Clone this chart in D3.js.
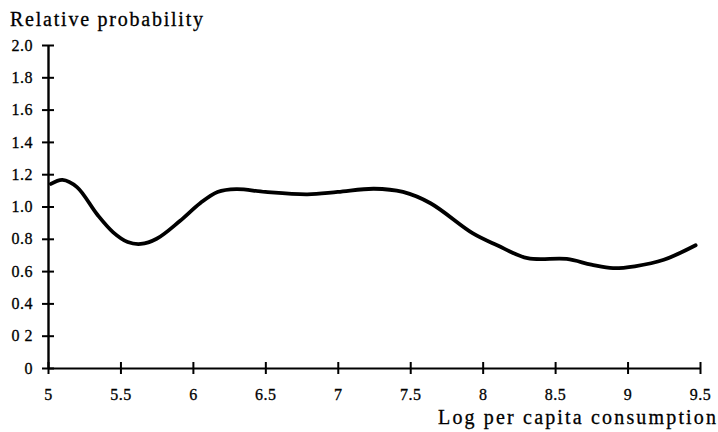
<!DOCTYPE html>
<html>
<head>
<meta charset="utf-8">
<script src="https://cdn.jsdelivr.net/npm/d3@7"></script>
<style>
  body { margin: 0; background: #fff; }
  svg text { font-family: "Liberation Serif", serif; fill: #000; stroke: #000; stroke-width: 0.3; }
</style>
</head>
<body>
<svg id="chart" width="718" height="432"></svg>
<script>
// curve
var logCons = [5.02, 5.10, 5.20, 5.34, 5.45, 5.55, 5.64, 5.75, 5.91, 6.05, 6.17, 6.30, 6.50, 6.79,
               7.00, 7.25, 7.45, 7.64, 7.93, 8.10, 8.31, 8.58, 8.75, 8.90, 9.05, 9.25, 9.47];
var relProb = [1.14, 1.165, 1.12, 0.95, 0.84, 0.78, 0.768, 0.80, 0.91, 1.02, 1.09, 1.108, 1.09, 1.075,
               1.09, 1.11, 1.09, 1.02, 0.835, 0.76, 0.68, 0.675, 0.64, 0.618, 0.63, 0.67, 0.76];

var xTicks = [5, 5.5, 6, 6.5, 7, 7.5, 8, 8.5, 9, 9.5];
var xTickLabels = ["5", "5.5", "6", "6.5", "7", "7.5", "8", "8.5", "9", "9.5"];
var yTicks = [0, 0.2, 0.4, 0.6, 0.8, 1.0, 1.2, 1.4, 1.6, 1.8, 2.0];
var yTickLabels = ["0", "0 2", "0.4", "0.6", "0.8", "1.0", "1.2", "1.4", "1.6", "1.8", "2.0"];

var svg = d3.select("#chart");
var x = d3.scaleLinear().domain([5, 9.5]).range([48, 700]);
var y = d3.scaleLinear().domain([0, 2]).range([368, 45]);

var xAxis = svg.append("g").attr("transform", "translate(0," + y(0) + ")")
    .call(d3.axisBottom(x).tickValues(xTicks).tickSize(0)
        .tickFormat(function(d, i) { return xTickLabels[i]; }));
xAxis.select(".domain").attr("stroke", "#000").attr("stroke-width", 2.2);
xAxis.selectAll(".tick line").attr("y1", -6).attr("y2", 6).attr("stroke", "#000").attr("stroke-width", 2);
xAxis.selectAll(".tick text").attr("y", 21).attr("font-size", 16).attr("letter-spacing", 0.5);

var yAxis = svg.append("g").attr("transform", "translate(" + x(5) + ",0)")
    .call(d3.axisLeft(y).tickValues(yTicks).tickSize(0)
        .tickFormat(function(d, i) { return yTickLabels[i]; }));
yAxis.select(".domain").attr("stroke", "#000").attr("stroke-width", 2.4);
yAxis.selectAll(".tick line").attr("x1", -6).attr("x2", 6).attr("stroke", "#000").attr("stroke-width", 2);
yAxis.selectAll(".tick text").attr("x", -15).attr("font-size", 16).attr("letter-spacing", 0.5);
svg.selectAll(".tick text").attr("font-family", "Liberation Serif").attr("fill", "#000");

var line = d3.line()
    .x(function(d) { return x(d[0]); })
    .y(function(d) { return y(d[1]); })
    .curve(d3.curveCatmullRom.alpha(0.5));

svg.append("path")
    .datum(d3.zip(logCons, relProb))
    .attr("d", line)
    .attr("fill", "none")
    .attr("stroke", "#000")
    .attr("stroke-width", 3.8)
    .attr("stroke-linecap", "round");

svg.append("text").attr("x", 10).attr("y", 26).attr("font-size", 20)
    .attr("textLength", 193).attr("lengthAdjust", "spacing").text("Relative probability");
svg.append("text").attr("x", 438).attr("y", 424).attr("font-size", 20)
    .attr("textLength", 278).attr("lengthAdjust", "spacing").text("Log per capita consumption");
</script>
</body>
</html>
